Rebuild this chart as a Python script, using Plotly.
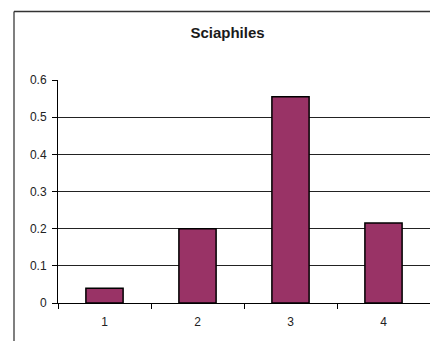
import plotly.graph_objects as go

categories = ["1", "2", "3", "4"]
values = [0.04, 0.2, 0.555, 0.215]
y_ticks = [0, 0.1, 0.2, 0.3, 0.4, 0.5, 0.6]
y_tick_labels = ["0", "0.1", "0.2", "0.3", "0.4", "0.5", "0.6"]
title_text = "Sciaphiles"

W, H = 430, 341
L, R, T, B = 58, 0, 79.5, 38.4
pw, ph = W - L - R, H - T - B

def px_x(px):
    return (px - L) / pw

def px_y(py):
    return (H - B - py) / ph

fig = go.Figure(
    go.Bar(
        x=categories,
        y=values,
        marker=dict(color="#993366", line=dict(color="#000000", width=1.5)),
        width=0.4,
    )
)

fig.update_layout(
    width=W,
    height=H,
    autosize=False,
    margin=dict(l=L, r=R, t=T, b=B, pad=0),
    paper_bgcolor="white",
    plot_bgcolor="white",
    showlegend=False,
    font=dict(family="Arial, Liberation Sans, sans-serif", size=12, color="#222222"),
    title=dict(
        text="<b>" + title_text + "</b>",
        x=227.5 / W,
        xanchor="center",
        y=1 - 33 / H,
        yanchor="middle",
        font=dict(size=15, color="#1a1a1a"),
    ),
    xaxis=dict(
        type="category",
        range=[-0.5, 3.5],
        showline=True,
        linecolor="#000000",
        linewidth=1,
        showgrid=False,
        ticks="outside",
        tickson="boundaries",
        ticklen=5,
        tickcolor="#000000",
        tickwidth=1,
        zeroline=False,
        ticklabelstandoff=8,
        tickfont=dict(size=12, color="#222222"),
    ),
    yaxis=dict(
        range=[0, 0.6],
        tickvals=y_ticks,
        ticktext=y_tick_labels,
        showline=True,
        linecolor="#000000",
        linewidth=1,
        showgrid=True,
        gridcolor="#222222",
        gridwidth=1,
        ticks="outside",
        ticklen=5,
        tickcolor="#000000",
        zeroline=False,
        ticklabelstandoff=3,
        tickfont=dict(size=12, color="#222222"),
    ),
    shapes=[
        dict(type="line", xref="paper", yref="paper",
             x0=px_x(14), x1=px_x(14), y0=px_y(11), y1=px_y(341),
             line=dict(color="#555555", width=1.5)),
        dict(type="line", xref="paper", yref="paper",
             x0=px_x(14), x1=px_x(431), y0=px_y(11), y1=px_y(11),
             line=dict(color="#333333", width=1.5)),
    ],
)

fig.write_html("out.html", config={"displayModeBar": False, "staticPlot": True})

with open("out.html", "r", encoding="utf-8") as f:
    html = f.read()
html = html.replace("<head>", "<head><style>html,body{margin:0;padding:0;overflow:hidden;}</style>", 1)
with open("out.html", "w", encoding="utf-8") as f:
    f.write(html)
